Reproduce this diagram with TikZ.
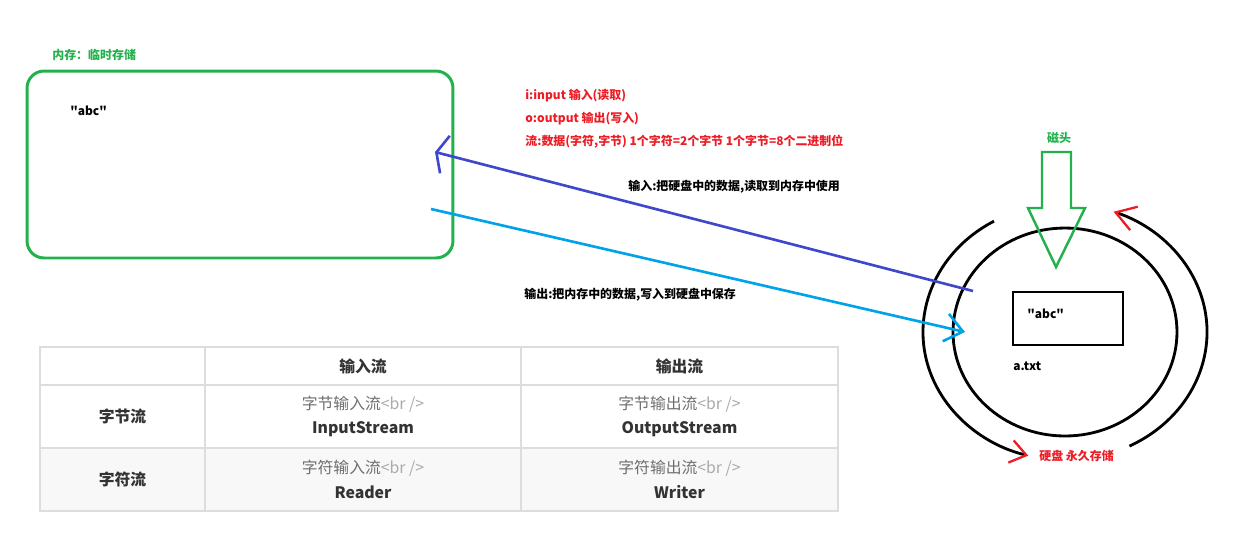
\documentclass[tikz,border=0pt]{standalone}
\usepackage{fontspec}
\setmainfont{Noto Sans CJK SC}
\usetikzlibrary{arrows.meta,shapes.geometric}

\definecolor{paintgreen}{RGB}{34,177,76}
\definecolor{paintred}{RGB}{237,28,36}
\definecolor{paintblue}{RGB}{63,72,204}
\definecolor{paintcyan}{RGB}{0,162,232}
\definecolor{gridgray}{RGB}{221,221,221}
\definecolor{rowgray}{RGB}{248,248,248}
\definecolor{celltext}{RGB}{51,51,51}
\definecolor{subgray}{RGB}{110,110,110}
\definecolor{taggray}{RGB}{170,170,170}

\tikzset{
  note/.style={font=\fontsize{6.8}{8}\selectfont\bfseries, inner sep=0pt},
  rednote/.style={note, text=paintred, anchor=west},
  blacknote/.style={note, text=black},
  membox/.style={draw=paintgreen, line width=1.7pt, rounded corners=0.34cm,
    minimum width=8.52cm, minimum height=3.74cm},
  diskring/.style={draw=black, line width=1.6pt},
  cell/.style={font=\fontsize{9}{14}\selectfont, text=celltext, align=center, inner sep=0pt},
  gridline/.style={draw=gridgray, line width=0.6pt}
}

\begin{document}
\begin{tikzpicture}[x=0.02cm, y=-0.02cm]
		\useasboundingbox (0,0) rectangle (1253,556);
		
		%memory box
		\node[membox] (mem) at (240,164.5) {};
		\node[note, text=paintgreen, anchor=west] (memlabel) at (52,55) {内存：临时存储};
		\node[blacknote, anchor=west] (memabc) at (70,111) {\textquotedbl abc\textquotedbl};
		
		%red notes
		\node[rednote] (inote) at (525,96) {i:input 输入(读取)};
		\node[rednote] (onote) at (525,119) {o:output 输出(写入)};
		\node[rednote] (flownote) at (525,142) {流:数据(字符,字节) 1个字符=2个字节 1个字节=8个二进制位};
		
		%disk
		\node[diskring, ellipse, minimum width=4.48cm, minimum height=4.16cm] (disk) at (1065,332) {};
		\node[diskring, minimum width=2.2cm, minimum height=1.06cm] (file) at (1068,318.5) {};
		\node[blacknote, anchor=west] (fileabc) at (1027,314) {\textquotedbl abc\textquotedbl};
		\node[blacknote, anchor=west] (filename) at (1013,366) {a.txt};
		\node[note, text=paintred, anchor=west] (disklabel) at (1039,456) {硬盘 永久存储};
		
		%outer ring with red tips
		\draw[diskring, -{Straight Barb[color=paintred, line width=1.3pt, length=9pt, width=13pt]}]
			(disk.center) ++(-120:142 and 128) arc[start angle=-120, end angle=-255, x radius=142, y radius=128];
		\draw[diskring, -{Straight Barb[color=paintred, line width=1.3pt, length=11pt, width=14pt]}]
			(disk.center) ++(63:142 and 128) arc[start angle=63, end angle=-70, x radius=142, y radius=128];
		
		%head
		\draw[draw=paintgreen, line width=1.4pt] (1042,152) -- (1071,152) -- (1071,208) -- (1085,208)
			-- (1056,267) -- (1028,208) -- (1042,208) -- cycle;
		\node[note, text=paintgreen] (headlabel) at (1059,138) {磁头};
		
		%input and output
		\coordinate (infrom) at (973,291);
		\coordinate (into) at (435,152);
		\coordinate (outfrom) at (431,209);
		\coordinate (outto) at (965,332);
		\draw[paintblue, line width=1.5pt, -{Straight Barb[length=5pt, width=22pt]}] (infrom) -- (into);
		\draw[paintcyan, line width=1.5pt, -{Straight Barb[length=10pt, width=16pt]}] (outfrom) -- (outto);
		\node[blacknote, anchor=west] (innote) at (628,187) {输入:把硬盘中的数据,读取到内存中使用};
		\node[blacknote, anchor=west] (outnote) at (524,295) {输出:把内存中的数据,写入到硬盘中保存};
		
		%table
		\fill[rowgray] (40,448) rectangle (838,511);
		\draw[gridline] (40,347) rectangle (838,511);
		\draw[gridline] (40,385) -- (838,385);
		\draw[gridline] (40,448) -- (838,448);
		\draw[gridline] (205,347) -- (205,511);
		\draw[gridline] (521,347) -- (521,511);
		
		\node[cell, font=\fontsize{9}{14}\selectfont\bfseries] (hin) at (363,366) {输入流};
		\node[cell, font=\fontsize{9}{14}\selectfont\bfseries] (hout) at (679.5,366) {输出流};
		\node[cell, font=\fontsize{9}{14}\selectfont\bfseries] (hbyte) at (122.5,416.5) {字节流};
		\node[cell, font=\fontsize{9}{14}\selectfont\bfseries] (hchar) at (122.5,479.5) {字符流};
		\node[cell] (bytein) at (363,416.5) {\textcolor{subgray}{字节输入流}\textcolor{taggray}{<br />}\\\textbf{InputStream}};
		\node[cell] (byteout) at (679.5,416.5) {\textcolor{subgray}{字节输出流}\textcolor{taggray}{<br />}\\\textbf{OutputStream}};
		\node[cell] (charin) at (363,479.5) {\textcolor{subgray}{字符输入流}\textcolor{taggray}{<br />}\\\textbf{Reader}};
		\node[cell] (charout) at (679.5,479.5) {\textcolor{subgray}{字符输出流}\textcolor{taggray}{<br />}\\\textbf{Writer}};
\end{tikzpicture}
\end{document}
